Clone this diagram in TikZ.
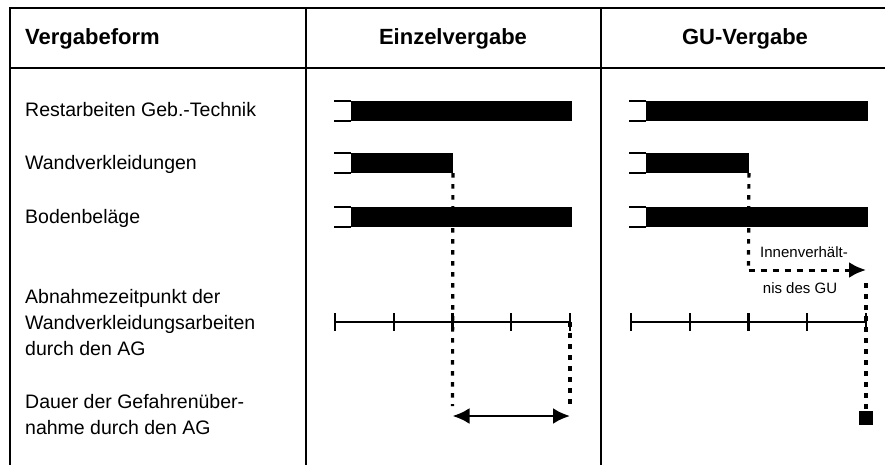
\documentclass[tikz,border=0pt]{standalone}
\usepackage{fontspec}
\setmainfont{Liberation Sans}
\usetikzlibrary{arrows.meta,calc}

\tikzset{
  kopf/.style={inner sep=0, font=\fontsize{22}{26}\selectfont\bfseries},
  zeile/.style={inner sep=0, anchor=west, align=left, font=\fontsize{19.5}{26}\selectfont},
  notiz/.style={inner sep=0, font=\fontsize{15}{18}\selectfont},
  balken/.style={fill=black, inner sep=0, minimum height=20pt, anchor=west},
  punkte/.style={line width=3.2pt, dash pattern=on 4.5pt off 6.5pt},
  strich/.style={line width=3pt, dash pattern=on 6pt off 6pt},
  achse/.style={line width=2.3pt},
}

\begin{document}
\begin{tikzpicture}[x=1pt, y=-1pt, >={Latex[length=17pt,width=16pt]}]
        \useasboundingbox (0,0) rectangle (885,465);
        % Tabelle
        \draw[line width=2.8pt] (10,465) -- (10,8) -- (885,8);
        \draw[line width=2.4pt] (10,68) -- (885,68);
        \draw[line width=2.8pt] (306,8) -- (306,465);
        \draw[line width=2.6pt] (601,8) -- (601,465);

        \node[kopf, anchor=west] (vergabeform) at (25,39) {Vergabeform};
        \node[kopf] (einzel) at (453,39) {Einzelvergabe};
        \node[kopf] (gu) at (745,39) {GU-Vergabe};

        \node[zeile] (rest) at (25,110) {Restarbeiten Geb.-Technik};
        \node[zeile] (wand) at (25,164) {Wandverkleidungen};
        \node[zeile] (boden) at (25,218) {Bodenbeläge};
        \node[zeile] (abnahme) at (25,323) {Abnahmezeitpunkt der\\Wandverkleidungsarbeiten\\durch den AG};
        \node[zeile] (dauer) at (25,415) {Dauer der Gefahrenüber-\\nahme durch den AG};

        % Balken
        \foreach \n/\y/\e/\g in {rest/111/572/868, wand/163/452.5/748.5, boden/217/572/868}{
          \node[balken, minimum width={(\e-351)*1pt}] (\n-e) at (351,\y) {};
          \node[balken, minimum width={(\g-646)*1pt}] (\n-g) at (646,\y) {};
          \draw[line width=2.2pt] (\n-e.north west) -- ++(-17,0) (\n-e.south west) -- ++(-17,0);
          \draw[line width=2.2pt] (\n-g.north west) -- ++(-17,0) (\n-g.south west) -- ++(-17,0);
        }

        % Zeitachsen
        \foreach \i in {0,...,4}{
          \coordinate (e\i) at ({335+58.75*\i},322);
          \coordinate (g\i) at ({631+58.75*\i},322);
        }
        \draw[achse] (e0) -- (e4);
        \draw[achse] (g0) -- (g4);
        \foreach \i in {0,...,4}{
          \draw[achse] ([yshift=9pt]e\i) -- ([yshift=-9pt]e\i);
          \draw[achse] ([yshift=9pt]g\i) -- ([yshift=-9pt]g\i);
        }

        % Einzelvergabe
        \coordinate (dauer-l) at (452.5,416);
        \coordinate (dauer-r) at (570,416);
        \draw[punkte, shorten >=10pt] (wand-e.south east) -- (dauer-l);
        \draw[punkte, shorten >=10pt] (e4) -- (dauer-r);
        \draw[<->, line width=2.8pt] (dauer-l) -- (dauer-r);

        % GU-Vergabe
        \coordinate (knick) at (748.5,270);
        \coordinate (innen) at (866,270);
        \draw[punkte] (wand-g.south east) -- (knick);
        \draw[strich, ->] (knick) -- (innen);
        \node[notiz] (innen-oben) at (804,252) {Innenverhält-};
        \node[notiz] (innen-unten) at (800,288) {nis des GU};
        \node[fill=black, inner sep=0, minimum size=14pt] (uebergabe) at (866,418) {};
        \draw[punkte, shorten <=13pt] (innen) -- (uebergabe);
    \end{tikzpicture}
\end{document}
